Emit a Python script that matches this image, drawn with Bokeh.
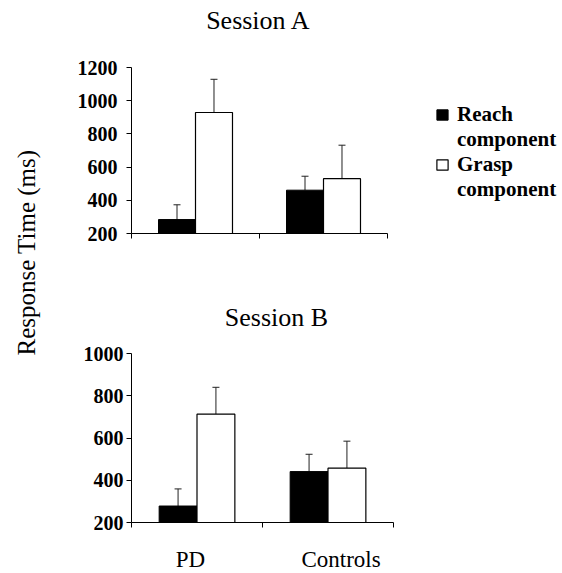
from math import pi
from bokeh.plotting import figure
from bokeh.models import (Range1d, FixedTicker, LinearAxis, Legend, LegendItem,
                          Whisker, ColumnDataSource, TeeHead)
from bokeh.layouts import row, column
from bokeh.embed import file_html
from bokeh.resources import INLINE
from bokeh.core.properties import value

# ---------------- data ----------------
groups = ["PD", "Controls"]
legend_lines = [["Reach", "component"], ["Grasp", "component"]]

a_reach = [284, 461]
a_reach_err = [89, 84]
a_grasp = [929, 530]
a_grasp_err = [200, 202]

b_reach = [278, 441]
b_reach_err = [81, 82]
b_grasp = [713, 457]
b_grasp_err = [127, 128]

a_yticks = [200, 400, 600, 800, 1000, 1200]
b_yticks = [200, 400, 600, 800, 1000]

SERIF = "Liberation Serif"
BAR_W = 0.289
LEFT_W = 50
FULL_W = 512
BORDER_L = 81
FRAME_X0 = LEFT_W + BORDER_L  # page x of panel frames


def text_strip(txt, w, h, x, y, size, angle=0.0, bl=0):
    f = figure(frame_width=w, frame_height=h, output_backend="svg",
               toolbar_location=None, x_range=Range1d(0, w), y_range=Range1d(0, h),
               min_border=0, min_border_left=bl,
               x_axis_location=None, y_axis_location=None)
    f.outline_line_color = None
    f.grid.visible = False
    f.text(x=[x], y=[h - y], text=[txt], angle=angle,
           text_align="center", text_baseline="middle",
           text_font=value(SERIF), text_font_size=size, text_color="black")
    return f


def panel(reach, reach_err, grasp, grasp_err, yticks, fw, fh,
          bl, br, bt, bb, label_standoff, legend=False, xlabels=False):
    p = figure(frame_width=fw, frame_height=fh, output_backend="svg",
               toolbar_location=None, x_range=Range1d(0, len(groups)),
               y_range=Range1d(yticks[0], yticks[-1]),
               min_border_left=bl, min_border_right=br,
               min_border_top=bt, min_border_bottom=bb,
               x_axis_location=None, y_axis_location=None)
    p.outline_line_color = None
    p.grid.visible = False

    ya = LinearAxis(ticker=FixedTicker(ticks=yticks))
    ya.major_label_text_font = SERIF
    ya.major_label_text_font_style = "bold"
    ya.major_label_text_font_size = "20px"
    ya.major_label_text_color = "black"
    ya.major_tick_out = 5
    ya.major_tick_in = 0
    ya.minor_tick_out = 0
    ya.minor_tick_in = 0
    ya.major_label_standoff = label_standoff
    ya.axis_line_color = "black"
    ya.major_tick_line_color = "black"
    p.add_layout(ya, "left")

    xa = LinearAxis(ticker=FixedTicker(ticks=list(range(len(groups) + 1))))
    xa.major_label_overrides = {i: "" for i in range(len(groups) + 1)}
    xa.major_label_text_font_size = "0px"
    xa.major_label_standoff = 0
    xa.major_tick_out = 5
    xa.major_tick_in = 0
    xa.minor_tick_out = 0
    xa.minor_tick_in = 0
    xa.axis_line_color = "black"
    xa.major_tick_line_color = "black"
    p.add_layout(xa, "below")

    if xlabels:
        la = LinearAxis(ticker=FixedTicker(ticks=[0.45, 1.6]))
        la.major_label_overrides = {0.45: groups[0], 1.6: groups[1]}
        la.major_label_text_font = SERIF
        la.major_label_text_font_size = "23px"
        la.major_label_text_color = "black"
        la.major_tick_out = 0
        la.major_tick_in = 0
        la.minor_tick_out = 0
        la.minor_tick_in = 0
        la.axis_line_color = None
        la.major_label_standoff = 19
        p.add_layout(la, "below")

    xr = [i + 0.5 - BAR_W / 2 for i in range(len(groups))]
    xg = [i + 0.5 + BAR_W / 2 for i in range(len(groups))]
    src_r = ColumnDataSource(dict(x=xr, top=reach,
                                  upper=[m + e for m, e in zip(reach, reach_err)]))
    src_g = ColumnDataSource(dict(x=xg, top=grasp,
                                  upper=[m + e for m, e in zip(grasp, grasp_err)]))

    rr = p.vbar(x="x", top="top", bottom=yticks[0], width=BAR_W, source=src_r,
                fill_color="black", line_color="black", line_width=1)
    rg = p.vbar(x="x", top="top", bottom=yticks[0], width=BAR_W, source=src_g,
                fill_color="white", line_color="black", line_width=1.2)

    for s in (src_r, src_g):
        w = Whisker(base="x", lower="top", upper="upper", source=s,
                    dimension="height", line_color="#222222", line_width=1,
                    lower_head=None,
                    upper_head=TeeHead(size=7, line_color="#222222", line_width=1))
        p.add_layout(w)

    if legend:
        blank = p.vbar(x=[], top=[], width=BAR_W, fill_alpha=0, line_alpha=0)
        items = [LegendItem(label=legend_lines[0][0], renderers=[rr]),
                 LegendItem(label=legend_lines[0][1], renderers=[blank]),
                 LegendItem(label=legend_lines[1][0], renderers=[rg]),
                 LegendItem(label=legend_lines[1][1], renderers=[blank])]
        lg = Legend(items=items, location=(48, 31))
        lg.label_text_font = SERIF
        lg.label_text_font_style = "bold"
        lg.label_text_font_size = "21px"
        lg.label_text_color = "black"
        lg.label_height = 22
        lg.glyph_width = 14
        lg.glyph_height = 13
        lg.border_line_color = None
        lg.background_fill_alpha = 0
        lg.margin = 0
        lg.padding = 0
        lg.spacing = -3
        lg.label_standoff = 8
        p.add_layout(lg, "right")
    return p


STRIP_W = FULL_W - BORDER_L
title_a = text_strip("Session A", STRIP_W, 40, 258 - FRAME_X0, 20, "26px", bl=BORDER_L)
top = panel(a_reach, a_reach_err, a_grasp, a_grasp_err, a_yticks,
            fw=256, fh=166, bl=BORDER_L, br=FULL_W - BORDER_L - 256, bt=27, bb=37,
            label_standoff=9, legend=True)
title_b = text_strip("Session B", STRIP_W, 65, 276 - FRAME_X0, 47, "26px", bl=BORDER_L)
bottom = panel(b_reach, b_reach_err, b_grasp, b_grasp_err, b_yticks,
               fw=262, fh=169, bl=BORDER_L, br=FULL_W - BORDER_L - 262, bt=18, bb=47,
               label_standoff=3, xlabels=True)

TOTAL_H = 40 + (27 + 166 + 37) + 65 + (18 + 169 + 47)
ylab = text_strip("Response Time (ms)", LEFT_W, TOTAL_H, 26, 252, "25px", angle=pi / 2)

layout = row(ylab, column(title_a, top, title_b, bottom))
open("out.html", "w").write(file_html(layout, INLINE))
